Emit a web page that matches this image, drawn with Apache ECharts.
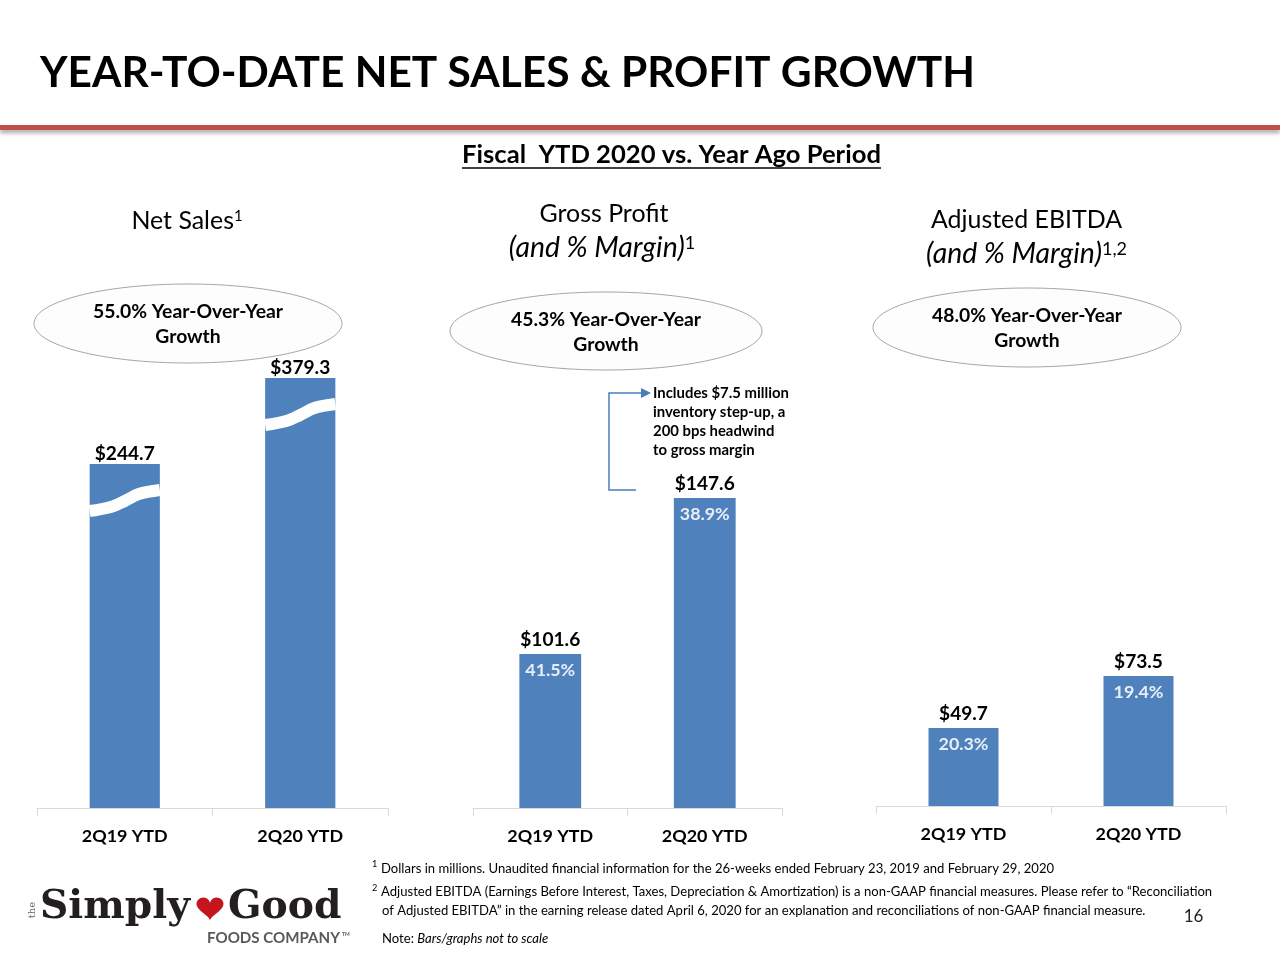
<!DOCTYPE html>
<html><head><meta charset="utf-8">
<script src="https://cdn.jsdelivr.net/npm/echarts@6/dist/echarts.min.js"></script>
<style>html,body{margin:0;padding:0;background:#fff}#c{width:1280px;height:960px}</style>
</head><body><div id="c"></div>
<script>
// ---------- data ----------
const categories = ['2Q19 YTD', '2Q20 YTD'];
const netSales = [244.7, 379.3];
const grossProfit = [101.6, 147.6];
const grossMargin = [41.5, 38.9];
const ebitda = [49.7, 73.5];
const ebitdaMargin = [20.3, 19.4];
const growth = [55.0, 45.3, 48.0];
const titleText = 'YEAR-TO-DATE NET SALES & PROFIT GROWTH';
const subtitleText = 'Fiscal  YTD 2020 vs. Year Ago Period';
const noteLines = [
  'Dollars in millions. Unaudited financial information for the 26-weeks ended February 23, 2019 and February 29, 2020',
  'Adjusted EBITDA (Earnings Before Interest, Taxes, Depreciation & Amortization) is a non-GAAP financial measures. Please refer to \u201cReconciliation',
  'of Adjusted EBITDA\u201d in the earning release dated April 6, 2020 for an explanation and reconciliations of non-GAAP financial measure.'
];
const annotationLines = ['Includes $7.5 million', 'inventory step-up, a', '200 bps headwind', 'to gross margin'];

// ---------- helpers ----------
const F = 'Lato';
const mctx = document.createElement('canvas').getContext('2d');
function fit(text, target, weight, style, fam) {
  mctx.font = (style || 'normal') + ' ' + (weight || 'normal') + ' 100px "' + (fam || F) + '"';
  return +(100 * target / mctx.measureText(text).width).toFixed(2);
}
function txt(x, y, text, size, o) {
  o = o || {};
  const al = o.align || 'left', va = o.va || 'middle';
  const st = {
    text: text, fontSize: size, fontFamily: o.fam || F, fontWeight: o.weight || 'normal',
    fontStyle: o.style || 'normal', fill: o.fill || '#000',
    align: al, verticalAlign: va, textAlign: al, textVerticalAlign: va
  };
  if (o.lineHeight) st.lineHeight = o.lineHeight;
  if (o.rich) st.rich = o.rich;
  const el = { type: 'text', x: x, y: y, z: 10, style: st };
  if (o.rotation) el.rotation = o.rotation;
  return el;
}

const BLUE = '#4f81bd';
const valSize = fit('$244.7', 60, 'bold');
const pctSize = fit('41.5%', 50, 'bold');
const axSize = fit('2Q19 YTD', 86, 'bold');
const titleSize = fit(titleText, 935, 'bold');
const subSize = fit(subtitleText, 419, 'bold');
const headSize = fit('Adjusted EBITDA', 191);
const italSize = fit('(and % Margin)', 176, 'normal', 'italic');
const ellSize = fit('55.0% Year-Over-Year', 190, 'bold');
const annSize = fit(annotationLines[0], 136, 'bold');
const noteSize = fit(noteLines[1], 832);
const logoSize = fit('Simply', 150, 'bold', 'normal', 'DejaVu Serif');
const foodsSize = fit('FOODS COMPANY', 133, 'bold');

function supRich(size, ital) {
  return {
    a: { fontSize: size, fontFamily: F, fontStyle: ital ? 'italic' : 'normal', fill: '#000' },
    s: { fontSize: Math.round(size * 0.62), fontFamily: F, fill: '#000', verticalAlign: 'top' }
  };
}

// ---------- axes ----------
function xAx(i) {
  return {
    type: 'category', gridIndex: i, data: categories,
    axisLine: { lineStyle: { color: '#d9d9d9', width: 1 } },
    axisTick: { show: true, length: 8, lineStyle: { color: '#d9d9d9' } },
    axisLabel: { fontFamily: F, fontWeight: 'bold', fontSize: axSize, color: '#000', margin: 19 }
  };
}
function dollarLabel(dist) {
  return { show: true, position: 'top', distance: dist, fontFamily: F, fontWeight: 'bold',
    fontSize: valSize, color: '#000', formatter: p => '$' + p.value.toFixed(1) };
}
function pctSeries(xi, vals, margins) {
  return {
    type: 'bar', xAxisIndex: xi, yAxisIndex: xi, data: vals, barWidth: '40%', barGap: '-100%',
    silent: true, z: 4, itemStyle: { color: 'rgba(0,0,0,0)' },
    label: { show: true, position: 'insideTop', distance: 7, fontFamily: F, fontWeight: 'bold',
      fontSize: pctSize, color: '#e8eef7', formatter: p => margins[p.dataIndex].toFixed(1) + '%' }
  };
}

// break marks on the net-sales bars ("not to scale")
function breakItem(params, api) {
  const top = api.coord([api.value(0), api.value(1)]);
  const w = api.size([1, 0])[0] * 0.4;
  const x0 = top[0] - w / 2, x1 = top[0] + w / 2;
  const yc = top[1] + 36;
  return {
    type: 'polyline',
    shape: { points: [[x0, yc + 11], [x0 + w * 0.3, yc + 7], [x0 + w * 0.5, yc + 1], [x0 + w * 0.7, yc - 6], [x1, yc - 10]], smooth: 0.35 },
    style: { stroke: '#fff', lineWidth: 12, fill: null }
  };
}

// heart outline for the logo (decoration)
function heartPoints(cx, cy, w, h) {
  const pts = [];
  for (let k = 0; k < 64; k++) {
    const t = k / 64 * 2 * Math.PI;
    const hx = 16 * Math.pow(Math.sin(t), 3);
    const hy = 13 * Math.cos(t) - 5 * Math.cos(2 * t) - 2 * Math.cos(3 * t) - Math.cos(4 * t);
    pts.push([cx + hx / 32 * w, cy - (hy + 2.5) / 29 * h]);
  }
  return pts;
}

// ---------- graphics ----------
const G = [];
G.push({ type: 'rect', shape: { x: 0, y: 125, width: 1280, height: 5 }, z: 5,
  style: { fill: '#c0504d', shadowBlur: 4, shadowColor: 'rgba(0,0,0,0.35)', shadowOffsetY: 3 } });
G.push(txt(40, 73, titleText, titleSize, { weight: 'bold' }));
G.push(txt(671.5, 155, subtitleText, subSize, { weight: 'bold', align: 'center' }));
G.push({ type: 'line', shape: { x1: 462, y1: 168, x2: 881, y2: 168 }, style: { stroke: '#000', lineWidth: 1.5 } });

G.push(txt(187, 221, '{a|Net Sales}{s|1}', headSize, { align: 'center', rich: supRich(headSize, false) }));
G.push(txt(604, 214, 'Gross Profit', headSize, { align: 'center' }));
G.push(txt(602, 248, '{a|(and % Margin)}{s|1}', italSize, { align: 'center', rich: supRich(italSize, true) }));
G.push(txt(1026.5, 220, 'Adjusted EBITDA', headSize, { align: 'center' }));
G.push(txt(1026.5, 254, '{a|(and % Margin)}{s|1,2}', italSize, { align: 'center', rich: supRich(italSize, true) }));

const ellipses = [[188, 323.5, 154, 39.5], [606, 331, 156, 39], [1027, 327.5, 154, 39.5]];
ellipses.forEach((e, i) => {
  G.push({ type: 'ellipse', shape: { cx: e[0], cy: e[1], rx: e[2], ry: e[3] }, z: 6,
    style: { fill: '#fdfdfd', stroke: '#a6a6a6', lineWidth: 1 } });
  G.push(txt(e[0], e[1] + 1, growth[i].toFixed(1) + '% Year-Over-Year\nGrowth', ellSize,
    { weight: 'bold', align: 'center', lineHeight: 25 }));
});

// annotation + connector
G.push(txt(653, 383.5, annotationLines.join('\n'), annSize, { weight: 'bold', va: 'top', lineHeight: 19 }));
G.push({ type: 'polyline', z: 7, shape: { points: [[636, 490], [609, 490], [609, 393], [643, 393]] },
  style: { stroke: '#4a7ebb', lineWidth: 1.5, fill: null } });
G.push({ type: 'polygon', z: 7, shape: { points: [[641, 388], [651, 393], [641, 398]] }, style: { fill: '#4a7ebb' } });

// footnotes
G.push(txt(372, 864, '1', noteSize * 0.7));
G.push(txt(381, 869, noteLines[0], noteSize));
G.push(txt(372, 888, '2', noteSize * 0.7));
G.push(txt(381, 892, noteLines[1], noteSize));
G.push(txt(382, 911, noteLines[2], noteSize));
G.push(txt(382, 939, '{a|Note: }{b|Bars/graphs not to scale}', noteSize, {
  rich: { a: { fontSize: noteSize, fontFamily: F, fill: '#000' }, b: { fontSize: noteSize, fontFamily: F, fontStyle: 'italic', fill: '#000' } } }));
G.push(txt(1193.5, 917, '16', 17, { align: 'center', fill: '#222' }));

// logo
G.push(txt(32, 910, 'the', 10, { align: 'center', fam: 'DejaVu Serif', fill: '#666', rotation: Math.PI / 2 }));
G.push(txt(40, 908, 'Simply', logoSize, { weight: 'bold', fam: 'DejaVu Serif', fill: '#231f20' }));
G.push(txt(228, 908, 'Good', logoSize, { weight: 'bold', fam: 'DejaVu Serif', fill: '#231f20' }));
G.push({ type: 'polygon', z: 10, shape: { points: heartPoints(210, 909, 27, 23) }, style: { fill: '#c4161c' } });
G.push(txt(207, 938, 'FOODS COMPANY', foodsSize, { weight: 'bold', fill: '#58595b' }));
G.push(txt(342, 934, 'TM', 5, { weight: 'bold', fill: '#58595b' }));

// ---------- chart ----------
const chart = echarts.init(document.getElementById('c'));
chart.setOption({
  animation: false,
  backgroundColor: '#fff',
  grid: [
    { left: 37, width: 351, top: 300, bottom: 152 },
    { left: 473, width: 309, top: 300, bottom: 152 },
    { left: 876, width: 350, top: 300, bottom: 154 }
  ],
  xAxis: [xAx(0), xAx(1), xAx(2)],
  yAxis: [
    { type: 'log', gridIndex: 0, min: 42.39, max: 564.5, show: false },
    { type: 'value', gridIndex: 1, min: 56.19, max: 205.98, show: false },
    { type: 'value', gridIndex: 2, min: 14, max: 245.6, show: false }
  ],
  series: [
    { type: 'bar', xAxisIndex: 0, yAxisIndex: 0, data: netSales, barWidth: '40%',
      itemStyle: { color: BLUE }, label: dollarLabel(1) },
    { type: 'custom', xAxisIndex: 0, yAxisIndex: 0, z: 5, silent: true,
      data: netSales.map((v, i) => [i, v]), renderItem: breakItem },
    { type: 'bar', xAxisIndex: 1, yAxisIndex: 1, data: grossProfit, barWidth: '40%', barGap: '-100%',
      itemStyle: { color: BLUE }, label: dollarLabel(5) },
    pctSeries(1, grossProfit, grossMargin),
    { type: 'bar', xAxisIndex: 2, yAxisIndex: 2, data: ebitda, barWidth: '40%', barGap: '-100%',
      itemStyle: { color: BLUE }, label: dollarLabel(5) },
    pctSeries(2, ebitda, ebitdaMargin)
  ],
  graphic: { elements: G }
});
</script></body></html>
